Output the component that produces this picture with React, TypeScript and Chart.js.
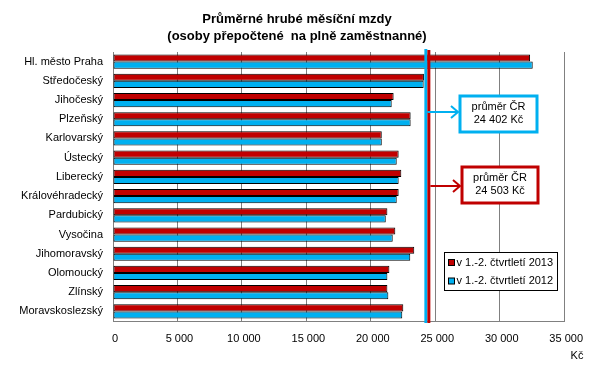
import React, { useEffect, useRef } from "react";
import { Chart, registerables } from "chart.js";

Chart.register(...registerables);

const categories = [
  "Hl. město Praha",
  "Středočeský",
  "Jihočeský",
  "Plzeňský",
  "Karlovarský",
  "Ústecký",
  "Liberecký",
  "Královéhradecký",
  "Pardubický",
  "Vysočina",
  "Jihomoravský",
  "Olomoucký",
  "Zlínský",
  "Moravskoslezský",
];
const values2013 = [32355, 24120, 21770, 23090, 20850, 22160, 22365, 22160, 21285, 21900, 23370, 21440, 21285, 22520];
const values2012 = [32560, 24100, 21620, 23090, 20850, 22010, 22160, 22010, 21160, 21700, 23060, 21285, 21360, 22440];
const seriesLabels = ["v 1.-2. čtvrtletí 2013", "v 1.-2. čtvrtletí 2012"];
const average2013 = 24503;
const average2012 = 24402;
const averageLabels = ["24 503 Kč", "24 402 Kč"];
const titleLines = ["Průměrné hrubé měsíční mzdy", "(osoby přepočtené  na plně zaměstnanné)"];
const xTicks = [0, 5000, 10000, 15000, 20000, 25000, 30000, 35000];

const RED = "#c00000";
const BLUE = "#00b0f0";
const FONT = "'Liberation Sans', Arial, sans-serif";

const fmt = (v: number) => String(v).replace(/\B(?=(\d{3})+(?!\d))/g, " ");

const overlayPlugin = {
  id: "overlay",
  afterDraw(chart: any) {
    const ctx = chart.ctx;
    const area = chart.chartArea;
    const xs = chart.scales.x;
    ctx.save();
    // title
    ctx.fillStyle = "#000";
    ctx.font = `bold 13px ${FONT}`;
    ctx.textAlign = "center";
    ctx.textBaseline = "middle";
    ctx.fillText(titleLines[0], 297, 19);
    ctx.fillText(titleLines[1], 297, 36);

    // average lines
    const redX = xs.getPixelForValue(average2013);
    let blueX = xs.getPixelForValue(average2012);
    if (redX - blueX < 3) blueX = redX - 3;
    ctx.lineWidth = 3;
    ctx.strokeStyle = BLUE;
    ctx.beginPath();
    ctx.moveTo(blueX, area.top - 3);
    ctx.lineTo(blueX, area.bottom + 2);
    ctx.stroke();
    ctx.strokeStyle = RED;
    ctx.beginPath();
    ctx.moveTo(redX, area.top - 2);
    ctx.lineTo(redX, area.bottom + 2);
    ctx.stroke();

    // annotation boxes with arrows
    const drawBox = (color: string, fromX: number, bx: number, by: number, bw: number, bh: number, ay: number, text: string) => {
      ctx.strokeStyle = color;
      ctx.lineWidth = 2;
      ctx.beginPath();
      ctx.moveTo(fromX, ay);
      ctx.lineTo(bx - 2, ay);
      ctx.stroke();
      ctx.beginPath();
      ctx.moveTo(bx - 9, ay - 6);
      ctx.lineTo(bx - 2, ay);
      ctx.lineTo(bx - 9, ay + 6);
      ctx.stroke();
      ctx.fillStyle = "#fff";
      ctx.fillRect(bx, by, bw, bh);
      ctx.lineWidth = 3;
      ctx.strokeRect(bx, by, bw, bh);
      ctx.fillStyle = "#000";
      ctx.font = `11px ${FONT}`;
      ctx.textAlign = "center";
      ctx.textBaseline = "middle";
      ctx.fillText("průměr ČR", bx + bw / 2, by + bh / 2 - 7);
      ctx.fillText(text, bx + bw / 2, by + bh / 2 + 6);
    };
    drawBox(BLUE, blueX + 1.5, 460, 96, 77, 36, 112, averageLabels[1]);
    drawBox(RED, redX + 1.5, 462, 167, 76, 36, 186, averageLabels[0]);

    // legend
    const lx = 444.5, ly = 252.5, lw = 113, lh = 38;
    ctx.fillStyle = "#fff";
    ctx.fillRect(lx, ly, lw, lh);
    ctx.strokeStyle = "#000";
    ctx.lineWidth = 1;
    ctx.strokeRect(lx, ly, lw, lh);
    const colors = [RED, BLUE];
    ctx.font = `11px ${FONT}`;
    ctx.textAlign = "left";
    ctx.textBaseline = "middle";
    seriesLabels.forEach((lab, i) => {
      const cy = ly + 10 + i * 18.5;
      ctx.fillStyle = colors[i];
      ctx.fillRect(lx + 4, cy - 3, 6, 6);
      ctx.strokeStyle = "#000";
      ctx.strokeRect(lx + 4, cy - 3, 6, 6);
      ctx.fillStyle = "#000";
      ctx.fillText(lab, lx + 12, cy);
    });

    // axis unit
    ctx.textAlign = "center";
    ctx.fillText("Kč", 577, 356);
    ctx.restore();
  },
};

export default function App() {
  const ref = useRef<HTMLCanvasElement>(null);
  useEffect(() => {
    document.body.style.margin = "0";
    const chart = new Chart(ref.current!, {
      type: "bar",
      data: {
        labels: categories,
        datasets: [
          {
            label: seriesLabels[0],
            data: values2013,
            backgroundColor: RED,
            borderColor: "#000",
            borderWidth: 1,
            borderSkipped: false,
            categoryPercentage: 0.74,
            barPercentage: 1,
          },
          {
            label: seriesLabels[1],
            data: values2012,
            backgroundColor: BLUE,
            borderColor: "#000",
            borderWidth: 1,
            borderSkipped: false,
            categoryPercentage: 0.74,
            barPercentage: 1,
          },
        ],
      },
      options: {
        indexAxis: "y",
        responsive: false,
        animation: false,
        layout: { padding: { top: 52, right: 26, left: 0, bottom: 0 } },
        plugins: { legend: { display: false }, title: { display: false }, tooltip: { enabled: false } },
        scales: {
          x: {
            min: 0,
            max: 35000,
            afterBuildTicks: (s: any) => {
              s.ticks = xTicks.map((v) => ({ value: v }));
            },
            afterFit: (s: any) => {
              s.height = 47;
            },
            grid: { color: "#808080", drawTicks: false, lineWidth: 1 },
            border: { display: true, color: "#808080" },
            ticks: {
              padding: 11,
              labelOffset: 2,
              color: "#000",
              font: { family: FONT, size: 11 },
              callback: (v: any) => fmt(Number(v)),
            },
          },
          y: {
            afterFit: (s: any) => {
              s.width = 113;
            },
            grid: { display: false, drawTicks: false },
            border: { display: true, color: "#808080" },
            ticks: { padding: 10, color: "#000", font: { family: FONT, size: 11 } },
          },
        },
      },
      plugins: [overlayPlugin],
    });
    return () => chart.destroy();
  }, []);
  return <canvas ref={ref} width={592} height={368} style={{ display: "block" }} />;
}
